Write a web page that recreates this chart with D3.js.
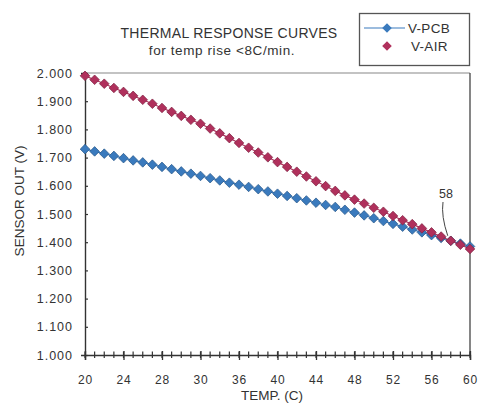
<!DOCTYPE html>
<html><head><meta charset="utf-8">
<script src="https://cdn.jsdelivr.net/npm/d3@7"></script>
<style>body{margin:0;background:#fff;}svg{display:block;}text{font-family:"Liberation Sans",Arial,sans-serif;fill:#333;}</style>
</head><body><svg id="c" width="479" height="403"></svg>
<script>
const temps = d3.range(20, 61);
const vAir = [1.990,1.976,1.962,1.947,1.933,1.919,1.905,1.891,1.876,1.862,1.848,1.834,1.820,
  1.803,1.786,1.769,1.752,1.735,1.718,1.701,1.684,1.667,1.650,1.633,1.616,1.599,1.582,
  1.566,1.551,1.537,1.522,1.508,1.493,1.478,1.464,1.449,1.435,1.420,1.405,1.391,1.376];
const vPcb = [1.730,1.722,1.714,1.706,1.698,1.690,1.683,1.675,1.667,1.659,1.651,1.643,1.635,
  1.627,1.619,1.611,1.604,1.596,1.588,1.580,1.572,1.564,1.556,1.548,1.540,1.532,1.525,
  1.515,1.505,1.495,1.485,1.475,1.465,1.455,1.445,1.435,1.425,1.415,1.405,1.395,1.385];
const xTickVals = [20,24,28,32,36,40,44,48,52,56,60];
const xTickLabels = ["20","24","28","30","36","40","44","48","52","56","60"];
const yTickVals = [1.0,1.1,1.2,1.3,1.4,1.5,1.6,1.7,1.8,1.9,2.0];
const seriesNames = ["V-PCB","V-AIR"];
const title = "THERMAL RESPONSE CURVES";
const subtitle = "for temp rise <8C/min.";

const svg = d3.select("#c");
const L=85, R=470, T=73, B=355;
const x = d3.scaleLinear().domain([20,60]).range([L,R]);
const y = d3.scaleLinear().domain([1.0,2.0]).range([B,T]);
const cAir="#b0305c", cPcb="#3a7abd";

// frame
svg.append("line").attr("x1",L).attr("x2",R).attr("y1",T).attr("y2",T).attr("stroke","#888").attr("stroke-width",1.2);
svg.append("line").attr("x1",R).attr("x2",R).attr("y1",T).attr("y2",B).attr("stroke","#444").attr("stroke-width",1.3);

// x axis
const xa = svg.append("g").attr("transform",`translate(0,${B})`);
xa.call(d3.axisBottom(x).tickValues(xTickVals).tickFormat((d,i)=>xTickLabels[i]).tickSize(5).tickPadding(15));
xa.select(".domain").attr("stroke","#333").attr("stroke-width",1.4);
xa.selectAll(".tick line").attr("stroke","#333").attr("y1",-4).attr("stroke-width",1.3);
xa.selectAll(".tick text").attr("font-size",12).attr("fill","#333").attr("letter-spacing",0.8);
xa.selectAll("line.minor").data(temps).join("line").attr("class","minor")
  .attr("x1",d=>x(d)).attr("x2",d=>x(d)).attr("y1",-3.5).attr("y2",3).attr("stroke","#333").attr("stroke-width",1.2);

// y axis
const ya = svg.append("g").attr("transform",`translate(${L},0)`);
ya.call(d3.axisLeft(y).tickValues(yTickVals).tickFormat(d3.format(".3f")).tickSize(4).tickPadding(8));
ya.select(".domain").attr("stroke","#333").attr("stroke-width",1.4);
ya.selectAll(".tick line").attr("stroke","#333").attr("x2",3).attr("stroke-width",1.2);
ya.selectAll(".tick text").attr("font-size",12.5).attr("fill","#333").attr("letter-spacing",1);

// titles
svg.append("text").attr("x",229).attr("y",38).attr("text-anchor","middle").attr("font-size",14).attr("letter-spacing",0.3).text(title);
svg.append("text").attr("x",222).attr("y",55).attr("text-anchor","middle").attr("font-size",13.5).attr("letter-spacing",0.6).text(subtitle);
svg.append("text").attr("x",272).attr("y",400).attr("text-anchor","middle").attr("font-size",13.5).text("TEMP. (C)");
svg.append("text").attr("transform",`translate(24,201) rotate(-90)`).attr("text-anchor","middle").attr("font-size",13.5).text("SENSOR OUT (V)");

// series
const diamond = d3.symbol().type(d3.symbolSquare).size(46);
const sets = [{v:vPcb,c:cPcb},{v:vAir,c:cAir}];
sets.forEach(s=>{
  svg.append("path").datum(temps).attr("fill","none").attr("stroke",s.c).attr("stroke-width",1.2)
    .attr("d",d3.line().x(d=>x(d)).y((d,i)=>y(s.v[i])));
  svg.append("g").selectAll("path").data(temps).join("path")
    .attr("transform",(d,i)=>`translate(${x(d)},${y(s.v[i])}) rotate(45)`)
    .attr("d",diamond).attr("fill",s.c).attr("stroke",d3.color(s.c).darker(0.9)).attr("stroke-width",0.7);
});

// annotation 58
svg.append("text").attr("x",446).attr("y",198).attr("text-anchor","middle").attr("font-size",12.5).text("58");
svg.append("path").attr("d",`M443,202 Q441,216 ${x(58)-3},${y(1.405)-5}`).attr("fill","none").attr("stroke","#444").attr("stroke-width",1);

// legend
svg.append("rect").attr("x",359.5).attr("y",13.5).attr("width",110).attr("height",52).attr("fill","#fff").attr("stroke","#555").attr("stroke-width",1.3);
svg.append("line").attr("x1",364).attr("x2",405).attr("y1",28).attr("y2",28).attr("stroke",cPcb).attr("stroke-width",1.2);
svg.append("path").attr("transform","translate(387,28) rotate(45)").attr("d",diamond).attr("fill",cPcb);
svg.append("path").attr("transform","translate(387,46) rotate(45)").attr("d",diamond).attr("fill",cAir);
svg.append("text").attr("x",408).attr("y",33).attr("font-size",13.5).attr("letter-spacing",0.3).text(seriesNames[0]);
svg.append("text").attr("x",411).attr("y",51).attr("font-size",13.5).attr("letter-spacing",0.3).text(seriesNames[1]);
</script></body></html>
